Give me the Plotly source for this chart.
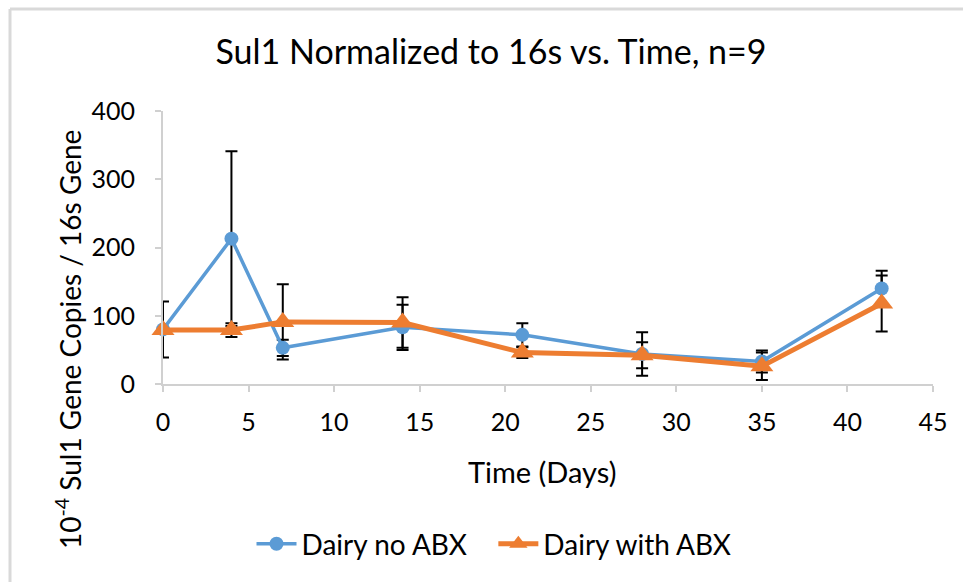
import plotly.graph_objects as go

days = [0, 4, 7, 14, 21, 28, 35, 42]
no_abx = [80, 213, 53, 83, 72, 44, 33, 140]
no_abx_err = [41, 128, 12, 33, 17, 32, 16, 26]
with_abx = [79, 79, 91, 90, 46, 42, 26, 118]
with_abx_err = [5, 10, 55, 37, 8, 19, 20, 41]

FONT = "Lato, 'Open Sans', sans-serif"
BLUE = "#5B9BD5"
ORANGE = "#ED7D31"
NBSP = "\u00a0"

fig = go.Figure()
# error bars (drawn beneath markers, clipped to plot area)
for ys, errs in ((no_abx, no_abx_err), (with_abx, with_abx_err)):
    fig.add_trace(go.Scatter(
        x=days, y=ys, mode="markers", showlegend=False, hoverinfo="skip",
        marker=dict(size=1, opacity=0),
        error_y=dict(type="data", array=errs, visible=True,
                     color="black", thickness=2, width=6),
        cliponaxis=True,
    ))

fig.add_trace(go.Scatter(
    x=days, y=no_abx, name="Dairy no ABX" + NBSP * 3, mode="lines+markers",
    line=dict(color=BLUE, width=3.5),
    marker=dict(symbol="circle", size=14, color=BLUE),
    cliponaxis=False,
))
fig.add_trace(go.Scatter(
    x=days, y=with_abx, name="Dairy with ABX", mode="lines+markers",
    line=dict(color=ORANGE, width=5),
    marker=dict(symbol="triangle-up", size=20, color=ORANGE),
    cliponaxis=False,
))

W, H = 963, 582
L, R, T, B = 163, 933, 111, 384
pw, ph = R - L, B - T

def px2x(px):
    return (px - L) / pw

def py2y(py):
    return (B - py) / ph

fig.update_layout(
    width=W, height=H,
    margin=dict(l=L, r=W - R, t=T, b=H - B, autoexpand=False),
    paper_bgcolor="white", plot_bgcolor="white",
    font=dict(family=FONT, size=25, color="#000000"),
    title=dict(text="Sul1 Normalized to 16s vs. Time, n=9",
               x=491 / W, xanchor="center", y=1 - 52 / H, yanchor="middle",
               yref="container", xref="container",
               font=dict(family=FONT, size=34, color="#000000")),
    xaxis=dict(range=[0, 45], tickvals=[0, 5, 10, 15, 20, 25, 30, 35, 40, 45],
               showgrid=False, zeroline=False, showline=True,
               linecolor="#D0D0D0", linewidth=2, ticks="outside",
               ticklen=6, tickcolor="#D0D0D0", tickwidth=2,
               ticklabelstandoff=9,
               tickfont=dict(family=FONT, size=25)),
    yaxis=dict(range=[0, 400], tickvals=[0, 100, 200, 300, 400],
               showgrid=False, zeroline=False, showline=True,
               linecolor="#D0D0D0", linewidth=2, ticks="outside",
               ticklen=6, tickcolor="#D0D0D0", tickwidth=2,
               ticklabelstandoff=15,
               tickfont=dict(family=FONT, size=25)),
    legend=dict(orientation="h", x=px2x(494), xanchor="center",
                y=py2y(544), yanchor="middle",
                font=dict(family=FONT, size=28),
                itemwidth=40, bgcolor="rgba(0,0,0,0)"),
    showlegend=True,
)

fig.add_annotation(
    text="Time (Days)",
    xref="paper", yref="paper", x=px2x(542), y=py2y(471),
    xanchor="center", yanchor="middle", showarrow=False,
    font=dict(family=FONT, size=29, color="#000000"),
)

fig.add_annotation(
    text="10<sup>-4</sup> Sul1 Gene Copies / 16s Gene",
    xref="paper", yref="paper", x=px2x(68), y=py2y(340),
    xanchor="center", yanchor="middle", textangle=-90, showarrow=False,
    font=dict(family=FONT, size=28, color="#000000"),
)

# chart border (top and left edges visible)
fig.add_shape(type="line", xref="paper", yref="paper",
              x0=px2x(10), x1=px2x(980), y0=py2y(9), y1=py2y(9),
              line=dict(color="#D9D9D9", width=3))
fig.add_shape(type="line", xref="paper", yref="paper",
              x0=px2x(10), x1=px2x(10), y0=py2y(9), y1=py2y(600),
              line=dict(color="#D9D9D9", width=3))

fig.write_html("out.html")
